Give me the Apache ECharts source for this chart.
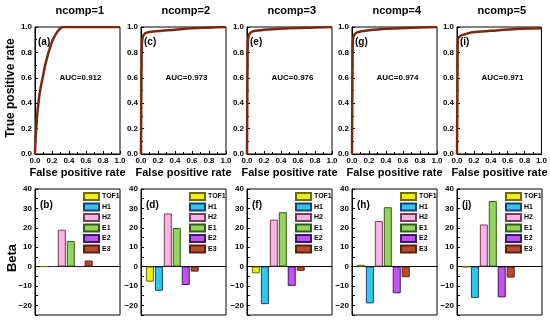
<!DOCTYPE html>
<html><head><meta charset="utf-8">
<script src="https://cdn.jsdelivr.net/npm/echarts@6/dist/echarts.min.js"></script>
<style>html,body{margin:0;padding:0;background:#fff}#c{width:550px;height:323px}</style>
</head><body><div id="c"></div>
<script>
const titles = ['ncomp=1','ncomp=2','ncomp=3','ncomp=4','ncomp=5'];
const aucLabels = ['AUC=0.912','AUC=0.973','AUC=0.976','AUC=0.974','AUC=0.971'];
const rocTags = ['(a)','(c)','(e)','(g)','(i)'];
const barTags = ['(b)','(d)','(f)','(h)','(j)'];
const roc1 = [[0,0],[0.005,0.1],[0.015,0.2],[0.025,0.3],[0.04,0.4],[0.06,0.5],[0.09,0.6],[0.12,0.7],[0.16,0.8],[0.21,0.9],[0.26,0.96],[0.3,0.99],[0.33,1],[1,1]];
const roc2 = [[0,0],[0.005,0.6],[0.01,0.85],[0.02,0.92],[0.05,0.95],[0.1,0.96],[0.25,0.97],[0.5,0.985],[0.8,0.995],[1,1]];
const roc3 = [[0,0],[0.005,0.6],[0.01,0.88],[0.02,0.93],[0.05,0.96],[0.1,0.97],[0.25,0.98],[0.5,0.99],[1,1]];
const roc4 = [[0,0],[0.005,0.6],[0.01,0.88],[0.02,0.93],[0.05,0.955],[0.1,0.965],[0.25,0.978],[0.5,0.988],[1,1]];
const roc5 = [[0,0],[0.005,0.5],[0.01,0.9],[0.03,0.925],[0.08,0.94],[0.2,0.96],[0.4,0.97],[0.7,0.985],[1,0.99]];
const rocs = [roc1, roc2, roc3, roc4, roc5];
const variables = ['TOF1','H1','H2','E1','E2','E3'];
const beta1 = [0, 0, 19, 13.2, 0, 3.1];
const beta2 = [-7.8, -12.5, 27.4, 19.9, -9.5, -2.6];
const beta3 = [-3.5, -19.4, 24.2, 28, -10, -2.2];
const beta4 = [0.9, -19, 23.5, 30.6, -13.8, -5.5];
const beta5 = [-0.3, -16.2, 21.7, 33.8, -15.9, -5.7];
const betas = [beta1, beta2, beta3, beta4, beta5];
const yTicksBeta = [40, 30, 20, 10, 0, -10, -20];

const barColors = ['#eeee10','#30c8ea','#f6b4e2','#92d45c','#c452f0','#b84c2a'];
const barBorders = ['#6b6b00','#1a3f7a','#7a3a5a','#2f5a1a','#3a1a6a','#5a2010'];
const lefts = [35, 141, 247, 352, 457];
const W = 85;
const FONT = 'Liberation Sans, Arial, sans-serif';

const grid = [], xAxis = [], yAxis = [], series = [], legend = [], graphic = [];
lefts.forEach((L, i) => {
  grid.push({left: L, top: 27, width: W, height: 127, show: true, borderColor: '#000', borderWidth: 1, backgroundColor: 'transparent'});
  grid.push({left: L, top: 189, width: W, height: 126, show: true, borderColor: '#000', borderWidth: 1, backgroundColor: 'transparent'});
  const gt = 2 * i, gb = 2 * i + 1;
  xAxis.push({gridIndex: gt, type: 'value', min: 0, max: 1, interval: 0.2,
    axisLine: {show: true, lineStyle: {color: '#000', width: 1}},
    axisTick: {show: true, inside: true, length: 3, lineStyle: {color: '#000'}},
    minorTick: {show: true, splitNumber: 2, length: 2, lineStyle: {color: '#000'}},
    splitLine: {show: false},
    axisLabel: {fontSize: 8, fontWeight: 'bold', color: '#000', fontFamily: FONT, margin: 3, formatter: v => v.toFixed(1)}});
  yAxis.push({gridIndex: gt, type: 'value', min: 0, max: 1, interval: 0.2,
    axisLine: {show: true, lineStyle: {color: '#000', width: 1}},
    axisTick: {show: true, inside: true, length: 3, lineStyle: {color: '#000'}},
    minorTick: {show: true, splitNumber: 2, length: 2, lineStyle: {color: '#000'}},
    splitLine: {show: false},
    axisLabel: {fontSize: 8, fontWeight: 'bold', color: '#000', fontFamily: FONT, margin: 3, formatter: v => v.toFixed(1)}});
  xAxis.push({gridIndex: gb, type: 'value', min: 0, max: 9.5,
    axisLine: {show: true, onZero: true, lineStyle: {color: '#000', width: 1}},
    axisTick: {show: false}, axisLabel: {show: false}, splitLine: {show: false}});
  yAxis.push({gridIndex: gb, type: 'value', min: -25, max: 40, interval: 5,
    axisLine: {show: true, lineStyle: {color: '#000', width: 1}},
    axisTick: {show: true, inside: true, length: 3, lineStyle: {color: '#000'}},
    splitLine: {show: false},
    axisLabel: {fontSize: 8, fontWeight: 'bold', color: '#000', fontFamily: FONT, margin: 3,
      formatter: v => yTicksBeta.indexOf(v) >= 0 ? (v < 0 ? '\u2212' + Math.abs(v) : String(v)) : ''}});
  series.push({type: 'line', xAxisIndex: gt, yAxisIndex: gt, data: rocs[i], symbol: 'none',
    smooth: 0.3, lineStyle: {color: '#7a2a0c', width: 2.5}, z: 3});
  variables.forEach((name, k) => {
    series.push({type: 'bar', name: name, xAxisIndex: gb, yAxisIndex: gb, barWidth: 8, barGap: '-100%',
      data: [[k + 1, betas[i][k]]],
      itemStyle: {color: barColors[k], borderColor: barBorders[k], borderWidth: 1}});
  });
  legend.push({data: variables, orient: 'vertical', left: L + 48, top: 192, itemWidth: 15, itemHeight: 7, itemGap: 1.5,
    icon: 'rect', selectedMode: false, padding: 0,
    textStyle: {fontSize: 7, fontWeight: 'bold', color: '#000', fontFamily: FONT, padding: [0, 0, 0, -2]}});
  graphic.push({type: 'text', left: L + W / 2 - 22, top: 5, style: {text: titles[i], font: 'bold 11px ' + FONT, fill: '#000'}});
  graphic.push({type: 'text', x: L + W / 2, y: 173, style: {text: 'False positive rate', font: 'bold 11px ' + FONT, fill: '#000', align: 'center', verticalAlign: 'middle'}});
  graphic.push({type: 'text', x: L + W / 2 + 3, y: 78, style: {text: aucLabels[i], font: 'bold 8px ' + FONT, fill: '#000', align: 'center', verticalAlign: 'middle'}});
  graphic.push({type: 'text', x: L + 3, y: 42, style: {text: rocTags[i], font: 'bold 10px ' + FONT, fill: '#000', align: 'left', verticalAlign: 'middle'}});
  graphic.push({type: 'text', x: L + 5, y: 205, style: {text: barTags[i], font: 'bold 10px ' + FONT, fill: '#000', align: 'left', verticalAlign: 'middle'}});
});
graphic.push({type: 'text', x: 11, y: 88, rotation: Math.PI / 2, style: {text: 'True positive rate', font: 'bold 12px ' + FONT, fill: '#000', align: 'center', verticalAlign: 'middle'}});
graphic.push({type: 'text', x: 12, y: 258, rotation: Math.PI / 2, style: {text: 'Beta', font: 'bold 13px ' + FONT, fill: '#000', align: 'center', verticalAlign: 'middle'}});

const chart = echarts.init(document.getElementById('c'));
chart.setOption({animation: false, backgroundColor: '#fff', grid, xAxis, yAxis, series, legend, graphic});
</script></body></html>
